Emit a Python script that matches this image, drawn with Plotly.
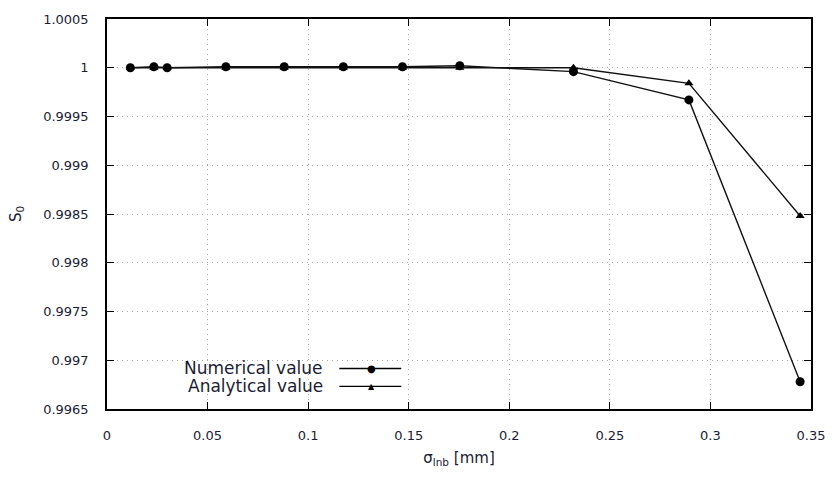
import plotly.graph_objects as go

# sigma_lnb [mm] sample positions
sigma_lnb = [0.0116, 0.0233, 0.0299, 0.0591, 0.0881, 0.1175, 0.1469, 0.1754, 0.2319, 0.2893, 0.3446]
# S0 from simulation and from the closed-form model
numerical = [1.0, 1.00001, 1.0, 1.00001, 1.00001, 1.00001, 1.00001, 1.00002, 0.99996, 0.99967, 0.99678]
analytical = [1.0, 1.0, 1.0, 1.0, 1.0, 1.0, 1.0, 1.0, 1.0, 0.99984, 0.99848]

x_ticks = [0, 0.05, 0.1, 0.15, 0.2, 0.25, 0.3, 0.35]
x_tick_text = ["0", "0.05", "0.1", "0.15", "0.2", "0.25", "0.3", "0.35"]
y_ticks = [0.9965, 0.997, 0.9975, 0.998, 0.9985, 0.999, 0.9995, 1.0, 1.0005]
y_tick_text = ["0.9965", "0.997", "0.9975", "0.998", "0.9985", "0.999", "0.9995", "1", "1.0005"]

series_names = ["Numerical value", "Analytical value"]

FONT = "DejaVu Sans"
TXT = "#1c1c34"

fig = go.Figure()
fig.add_trace(go.Scatter(
    x=sigma_lnb, y=numerical, mode="lines+markers", name=series_names[0],
    line=dict(color="#111", width=1.4),
    marker=dict(symbol="circle", size=9, color="#000"),
    showlegend=False,
))
fig.add_trace(go.Scatter(
    x=sigma_lnb, y=analytical, mode="lines+markers", name=series_names[1],
    line=dict(color="#111", width=1.4),
    marker=dict(symbol="triangle-up", size=8, color="#000"),
    showlegend=False,
))

axis_common = dict(
    showline=True, linecolor="#000", linewidth=1.5, mirror="ticks",
    ticks="inside", ticklen=7, tickcolor="#000", tickwidth=1.2,
    showgrid=True, gridcolor="#a8a8a8", griddash="1px,4px", gridwidth=1,
    zeroline=False,
    tickfont=dict(family=FONT, size=13, color=TXT),
)

fig.update_xaxes(
    range=[0, 0.35], tickvals=x_ticks, ticktext=x_tick_text,
    ticklabelstandoff=14,
    title=dict(text="σ<sub>lnb</sub> [mm]", font=dict(family=FONT, size=15, color=TXT), standoff=10),
    **axis_common,
)
fig.update_yaxes(
    range=[0.9965, 1.0005], tickvals=y_ticks, ticktext=y_tick_text,
    ticklabelstandoff=14,
    title=dict(text="S<sub>0</sub>", font=dict(family=FONT, size=15, color=TXT), standoff=18),
    **axis_common,
)

# Key in the lower-left corner: label on the left, line sample on the right
shapes = []
annotations = []
key_rows = [(0.104, "●"), (0.058, "▲")]
for (yp, sym), label in zip(key_rows, series_names):
    annotations.append(dict(
        x=0.310, y=yp, xref="paper", yref="paper", text=label, showarrow=False,
        xanchor="right", yanchor="middle", font=dict(family=FONT, size=17, color=TXT),
    ))
    shapes.append(dict(
        type="line", xref="paper", yref="paper", x0=0.330, x1=0.418, y0=yp, y1=yp,
        line=dict(color="#000", width=1.4),
    ))
    annotations.append(dict(
        x=0.376, y=yp, xref="paper", yref="paper", text=sym, showarrow=False,
        xanchor="center", yanchor="middle",
        font=dict(family=FONT, size=10 if sym == "●" else 8, color="#000"),
    ))

fig.update_layout(
    width=837, height=477,
    margin=dict(l=107, r=24, t=17, b=68),
    paper_bgcolor="#fff", plot_bgcolor="#fff",
    shapes=shapes, annotations=annotations,
    font=dict(family=FONT, color=TXT),
)

fig.write_html("out.html")
